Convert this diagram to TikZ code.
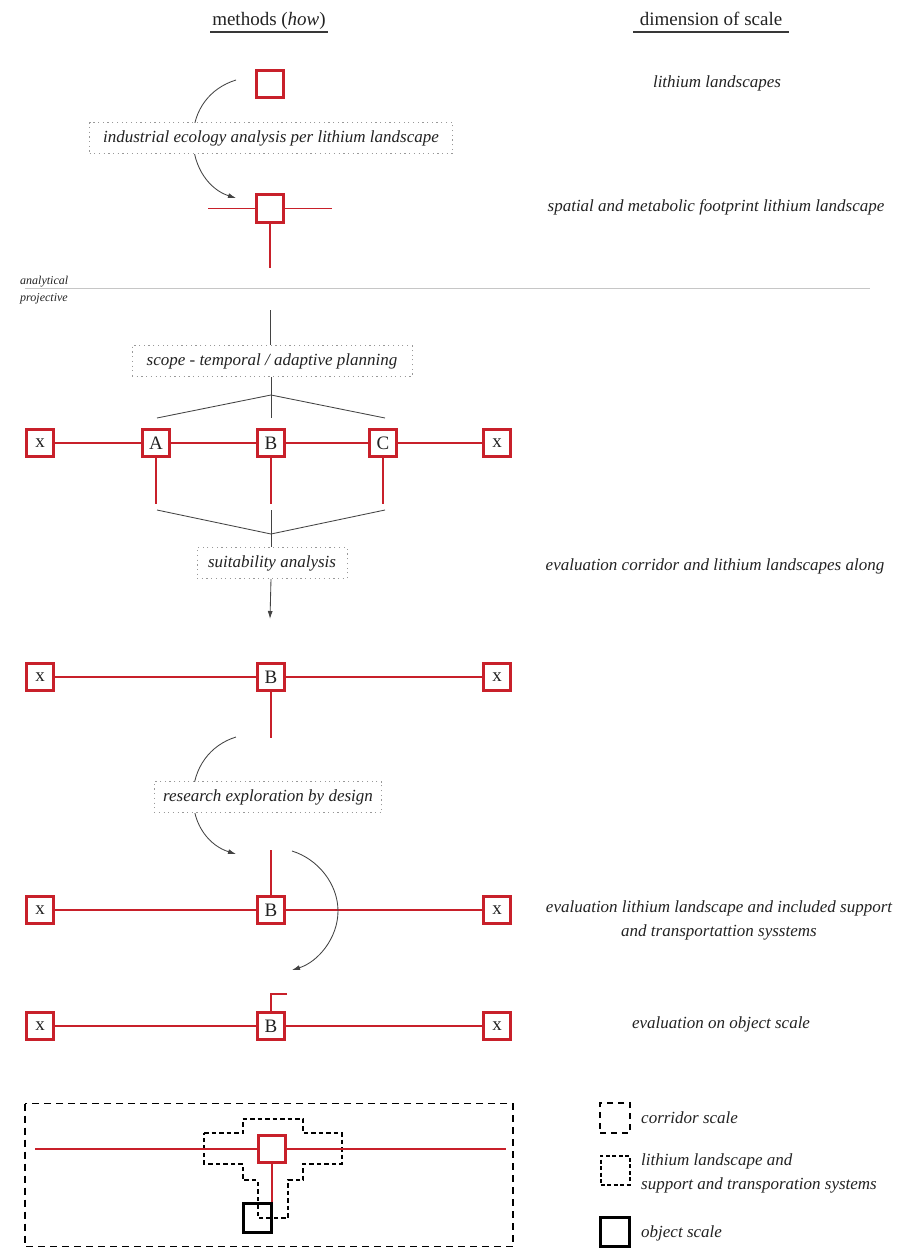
\documentclass[tikz,border=0pt]{standalone}
\usepackage{fontspec}
\setmainfont{Liberation Serif}
\usetikzlibrary{arrows.meta}
\definecolor{lred}{HTML}{C8202A}
\definecolor{ink}{HTML}{222222}
\pgfdeclarelayer{bg}
\pgfsetlayers{bg,main}
\tikzset{
 sq/.style={draw=lred, line width=3.3pt, fill=white, minimum size=27.5pt, inner sep=0pt, font=\fontsize{19}{19}\selectfont, text=ink},
 objsq/.style={draw=black, line width=3pt, minimum size=28.5pt, inner sep=0pt},
 rl/.style={draw=lred, line width=1.6pt},
 lbl/.style={draw=gray!80, dash pattern=on 1.2pt off 3.5pt, line width=1pt, fill=white, font=\fontsize{17}{17}\selectfont\itshape, text=ink, minimum height=31pt, inner xsep=9pt, text height=12pt, text depth=4pt},
 rt/.style={font=\fontsize{17}{24}\selectfont\itshape, text=ink, align=center},
 sm/.style={font=\fontsize{12}{12}\selectfont\itshape, text=ink, anchor=base west, inner sep=0pt},
 con/.style={draw=ink!85, line width=0.85pt},
 arr/.style={con, -{Latex[length=8pt,width=5pt]}},
 hd/.style={font=\fontsize{19}{19}\selectfont, text=ink, inner sep=0pt, anchor=base},
 ul/.style={draw=ink!90, line width=1.5pt},
 lgtxt/.style={font=\fontsize{17}{24}\selectfont\itshape, text=ink, anchor=west, align=left, inner sep=0pt}
}
\begin{document}
\begin{tikzpicture}[x=1pt,y=-1pt]
\useasboundingbox (0,0) rectangle (916,1248);

% headers
\node[hd] (h1) at (269,25) {methods (\textit{how})};
\node[hd] (h2) at (711,25) {dimension of scale};
\coordinate (u1a) at (210,32); \coordinate (u1b) at (328,32);
\coordinate (u2a) at (633,32); \coordinate (u2b) at (789,32);
\draw[ul] (u1a) -- (u1b);
\draw[ul] (u2a) -- (u2b);

% right column
\node[rt] (r1) at (717,83) {lithium landscapes};
\node[rt] (r2) at (716,207) {spatial and metabolic footprint lithium landscape};
\node[rt] (r3) at (715,566) {evaluation corridor and lithium landscapes along};
\node[rt] (r4) at (719,920) {evaluation lithium landscape and included support\\and transportattion sysstems};
\node[rt] (r5) at (721,1024) {evaluation on object scale};

% stage 1
\node[sq] (s1) at (270,84) {};
\node[lbl, minimum width=363pt] (L1) at (271,138) {industrial ecology analysis per lithium landscape};
\node[sq] (s2) at (270,208.5) {};
\coordinate (s2l) at (208,208.5);
\coordinate (s2r) at (332,208.5);
\coordinate (s2d) at (270,268);
\draw[rl] (s2.west) -- (s2l);
\draw[rl] (s2.east) -- (s2r);
\draw[rl] (s2.south) -- (s2d);
\coordinate (c1a) at (236,80);
\coordinate (c1b) at (236,198);
\begin{pgfonlayer}{bg}
\draw[arr] (c1a) .. controls (210,88) and (193,110) .. (193,139) .. controls (193,168) and (210,190) .. (c1b);
\end{pgfonlayer}

% separator
\coordinate (sepL) at (25,288);
\coordinate (sepR) at (870,288);
\draw[gray!45, line width=1pt] (sepL) -- (sepR);
\node[sm] (an) at (20,284) {analytical};
\node[sm] (pr) at (20,301) {projective};

% stage 2
\coordinate (t0) at (270,310);
\node[lbl, minimum width=280pt] (L2) at (272,361) {scope - temporal / adaptive planning};
\draw[con] (t0) -- (L2.north -| t0);
\coordinate (ap) at (271,395);
\coordinate (tb) at (271,418);
\coordinate (tl) at (157,418);
\coordinate (tr) at (385,418);
\draw[con] (L2.south -| ap) -- (tb);
\draw[con] (tl) -- (ap) -- (tr);

\node[sq] (x1) at (40,443) {x};
\node[sq] (A) at (156,443) {A};
\node[sq] (B2) at (271,443) {B};
\node[sq] (C) at (383,443) {C};
\node[sq] (x2) at (497,443) {x};
\draw[rl] (x1) -- (A) -- (B2) -- (C) -- (x2);
\coordinate (ad) at (156,504);
\coordinate (bd) at (271,504);
\coordinate (cd) at (383,504);
\draw[rl] (A.south) -- (ad);
\draw[rl] (B2.south) -- (bd);
\draw[rl] (C.south) -- (cd);

\coordinate (ql) at (157,510);
\coordinate (qr) at (385,510);
\coordinate (qa) at (271,534);
\coordinate (qt) at (271,510);
\draw[con] (ql) -- (qa) -- (qr);
\node[lbl, minimum width=150pt] (L3) at (272,563) {suitability analysis};
\draw[con] (qt) -- (L3.north -| qt);
\coordinate (a3) at (270,619);
\draw[arr] (L3.south -| qt) -- (a3);

% stage 3
\node[sq] (x3) at (40,677) {x};
\node[sq] (B3) at (271,677) {B};
\node[sq] (x4) at (497,677) {x};
\draw[rl] (x3) -- (B3) -- (x4);
\coordinate (b3d) at (271,738);
\draw[rl] (B3.south) -- (b3d);

\node[lbl, minimum width=226pt] (L4) at (268,797) {research exploration by design};
\coordinate (c2a) at (236,737);
\coordinate (c2b) at (236,854);
\begin{pgfonlayer}{bg}
\draw[arr] (c2a) .. controls (210,745) and (193,768) .. (193,797) .. controls (193,826) and (210,846) .. (c2b);
\end{pgfonlayer}

% stage 4
\node[sq] (x5) at (40,910) {x};
\node[sq] (B4) at (271,910) {B};
\node[sq] (x6) at (497,910) {x};
\draw[rl] (x5) -- (B4) -- (x6);
\coordinate (b4u) at (271,850);
\draw[rl] (b4u) -- (B4.north);
\coordinate (c3a) at (292,851);
\coordinate (c3b) at (292,970);
\draw[arr] (c3a) .. controls (318,859) and (338,884) .. (338,911) .. controls (338,938) and (318,962) .. (c3b);

% stage 5
\node[sq] (x7) at (40,1026) {x};
\node[sq] (B5) at (271,1026) {B};
\node[sq] (x8) at (497,1026) {x};
\draw[rl] (x7) -- (B5) -- (x8);
\coordinate (b5a) at (287,994);
\coordinate (b5b) at (271,994);
\draw[rl] (b5a) -- (b5b) -- (B5.north);

% bottom scheme
\draw[black, line width=1.3pt, dash pattern=on 7pt off 5pt] (25,1103.5) rectangle (513,1246.5);
\coordinate (bl) at (35,1149);
\coordinate (br) at (506,1149);
\draw[black, line width=2pt, dash pattern=on 4.5pt off 3pt]
 (204,1133) -- (242.5,1133) -- (242.5,1119) -- (303,1119) -- (303,1133) -- (342,1133) -- (342,1163.5) -- (303,1163.5) -- (303,1180) -- (288,1180) -- (288,1218) -- (257.5,1218) -- (257.5,1180) -- (242.5,1180) -- (242.5,1163.5) -- (204,1163.5) -- cycle;
\node[sq] (bs) at (272,1149) {};
\draw[rl] (bl) -- (bs) -- (br);
\node[objsq] (obj) at (257.5,1218) {};
\draw[rl] (bs.south) -- (obj.north -| bs);

% legend
\node[draw=black, line width=1.1pt, dash pattern=on 6pt off 5pt, minimum size=30pt, inner sep=0pt] (lg1) at (615,1118) {};
\node[draw=black, line width=2pt, dash pattern=on 4pt off 2.5pt, minimum size=29pt, inner sep=0pt] (lg2) at (615,1170) {};
\node[objsq] (lg3) at (615,1232) {};
\node[lgtxt] (lt1) at (641,1118) {corridor scale};
\node[lgtxt] (lt2) at (641,1173) {lithium landscape and\\support and transporation systems};
\node[lgtxt] (lt3) at (641,1233) {object scale};
\end{tikzpicture}
\end{document}
